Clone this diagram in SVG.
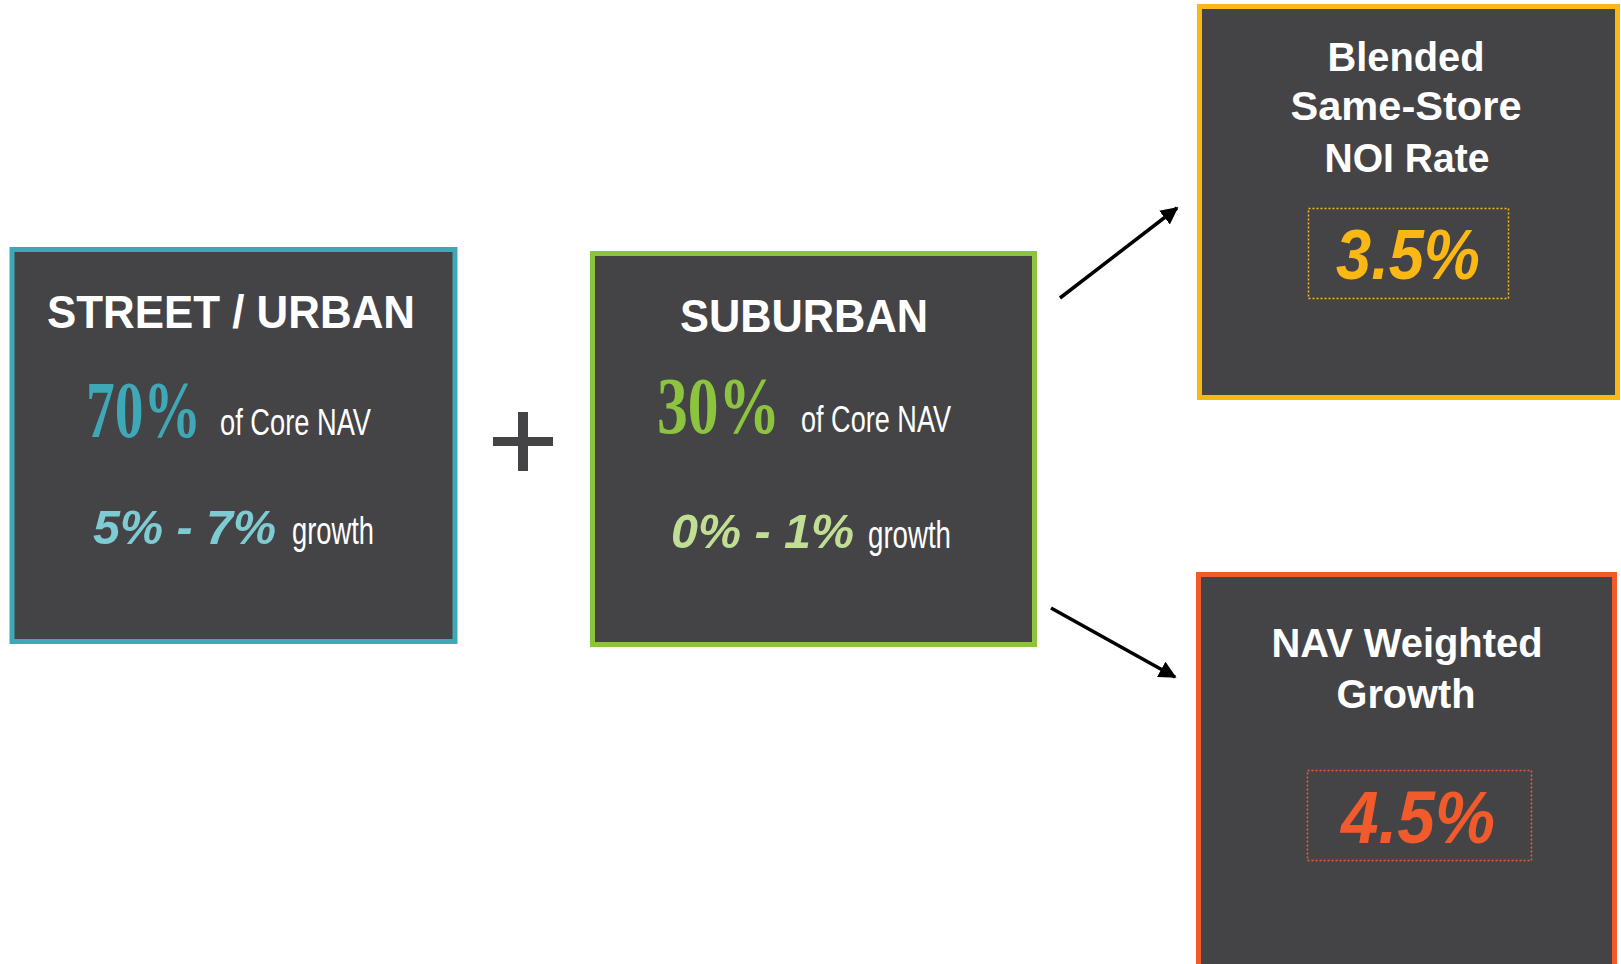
<svg xmlns="http://www.w3.org/2000/svg" width="1621" height="964" viewBox="0 0 1621 964">
<style>
.box{fill:#444446;stroke-width:5}
.hd{font-family:"Liberation Sans",Arial,sans-serif;font-weight:bold;fill:#ffffff;text-anchor:middle}
.big{font-family:"Liberation Serif","Times New Roman",serif;font-weight:bold}
.cond{font-family:"Liberation Sans",Arial,sans-serif;fill:#ffffff}
.rng{font-family:"Liberation Sans",Arial,sans-serif;font-weight:bold;font-style:italic}
.conn{stroke:#000;stroke-width:3.5;fill:none;marker-end:url(#ah)}
</style>
<defs>
<marker id="ah" viewBox="0 0 10 10" refX="9" refY="5" markerWidth="5" markerHeight="5" markerUnits="strokeWidth" orient="auto">
<path d="M0,0 L10,5 L0,10 Z" fill="#000"/>
</marker>
</defs>
<rect width="1621" height="964" fill="#ffffff"/>
<g id="street-urban">
<rect class="box" x="12" y="249.5" width="443" height="392" stroke="#3fa8b7"/>
<text class="hd" x="231" y="328" font-size="46" textLength="368" lengthAdjust="spacingAndGlyphs">STREET / URBAN</text>
<text class="big" transform="translate(86,437) scale(0.72,1)" font-size="80" fill="#3fa8b7">70%</text>
<text class="cond" x="220" y="435" font-size="37" textLength="151" lengthAdjust="spacingAndGlyphs">of Core NAV</text>
<text class="rng" x="93" y="544" font-size="48" fill="#7fcbd3" textLength="183" lengthAdjust="spacingAndGlyphs">5% - 7%</text>
<text class="cond" x="292" y="544" font-size="38" textLength="82" lengthAdjust="spacingAndGlyphs">growth</text>
</g>
<g id="plus">
<rect x="518" y="412" width="10" height="59" fill="#444446"/>
<rect x="493" y="437" width="60" height="9" fill="#444446"/>
</g>
<g id="suburban">
<rect class="box" x="592.5" y="253.5" width="442" height="391" stroke="#8cc43f"/>
<text class="hd" x="804" y="332" font-size="46" textLength="248" lengthAdjust="spacingAndGlyphs">SUBURBAN</text>
<text class="big" transform="translate(657,433) scale(0.77,1)" font-size="80" fill="#8cc43f">30%</text>
<text class="cond" x="801" y="432" font-size="37" textLength="150" lengthAdjust="spacingAndGlyphs">of Core NAV</text>
<text class="rng" x="671" y="548" font-size="48" fill="#c1df94" textLength="183" lengthAdjust="spacingAndGlyphs">0% - 1%</text>
<text class="cond" x="868" y="548" font-size="38" textLength="83" lengthAdjust="spacingAndGlyphs">growth</text>
</g>
<g id="blended">
<rect class="box" x="1199.5" y="6.5" width="418" height="391" stroke="#fbb814"/>
<text class="hd" x="1406" y="71" font-size="40" textLength="157" lengthAdjust="spacingAndGlyphs">Blended</text>
<text class="hd" x="1406" y="120" font-size="40" textLength="231" lengthAdjust="spacingAndGlyphs">Same-Store</text>
<text class="hd" x="1407" y="172" font-size="40" textLength="165" lengthAdjust="spacingAndGlyphs">NOI Rate</text>
<rect x="1308.5" y="208.5" width="200" height="90" fill="none" stroke="#fbb814" stroke-width="1.5" stroke-dasharray="2 2"/>
<text class="rng" x="1336" y="279" font-size="70" fill="#fbb814" textLength="144" lengthAdjust="spacingAndGlyphs">3.5%</text>
</g>
<g id="nav-weighted">
<rect class="box" x="1198.5" y="574.5" width="416" height="400" stroke="#f15a2b"/>
<text class="hd" x="1407" y="657" font-size="40" textLength="271" lengthAdjust="spacingAndGlyphs">NAV Weighted</text>
<text class="hd" x="1406" y="708" font-size="40" textLength="139" lengthAdjust="spacingAndGlyphs">Growth</text>
<rect x="1307.5" y="770.5" width="224" height="90" fill="none" stroke="#f15a2b" stroke-width="1.5" stroke-dasharray="2 2"/>
<text class="rng" x="1341" y="843" font-size="74" fill="#f15a2b" textLength="154" lengthAdjust="spacingAndGlyphs">4.5%</text>
</g>
<g id="connectors">
<line class="conn" x1="1060" y1="298" x2="1177" y2="208"/>
<line class="conn" x1="1051" y1="608" x2="1175" y2="677"/>
</g>
</svg>
